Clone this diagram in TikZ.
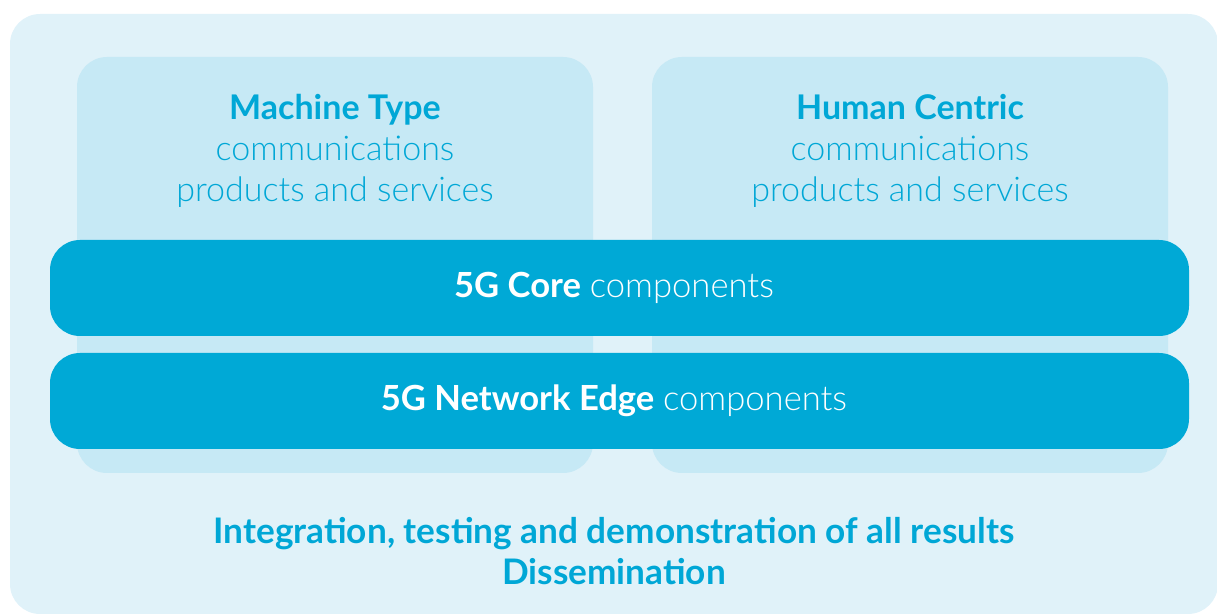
\documentclass[tikz,border=0pt]{standalone}
\usepackage{fontspec}
\setmainfont{Lato}
\newfontfamily\thinfont{Lato Light}
\usepackage{xcolor}
\usetikzlibrary{positioning}
\definecolor{outerbg}{HTML}{E0F2F9}
\definecolor{innerbg}{HTML}{C6E9F5}
\definecolor{barblue}{HTML}{00A9D6}
\definecolor{txtblue}{HTML}{00A7D6}

\begin{document}
\begin{tikzpicture}[x=0.5pt,y=-0.5pt,
	pane/.style={fill=innerbg,rounded corners=15pt},
	bar/.style={fill=barblue,rounded corners=15pt},
	head/.style={align=center,text=txtblue,font=\fontsize{17}{20.5}\selectfont},
	bartext/.style={text=white,font=\fontsize{17.3}{20.5}\selectfont}]
\useasboundingbox (0,0) rectangle (1217,614);
\clip (0,0) rectangle (1217,614);
\fill[outerbg,rounded corners=15pt] (10,14) rectangle (1218,614);
%
\fill[pane] (77,57) rectangle (593,473);
\fill[pane] (652,57) rectangle (1168,473);
\node[head] (mtc) at (335,151) {\textbf{Machine Type}\\ \thinfont communications\\ \thinfont products and services};
\node[head] (hcc) at (910,151) {\textbf{Human Centric}\\ \thinfont communications\\ \thinfont products and services};
%
\fill[bar] (50,240) rectangle (1189,336);
\fill[bar] (50,353) rectangle (1189,449);
\node[bartext] (core) at (614,288) {\textbf{5G Core} {\thinfont components}};
\node[bartext] (edge) at (614,401) {\textbf{5G Network Edge} {\thinfont components}};
%
\node[head,font=\fontsize{17.6}{20.5}\selectfont\bfseries] (integ) at (614,551)
	{Integration, testing and demonstration of all results\\ Dissemination};
\end{tikzpicture}
\end{document}
